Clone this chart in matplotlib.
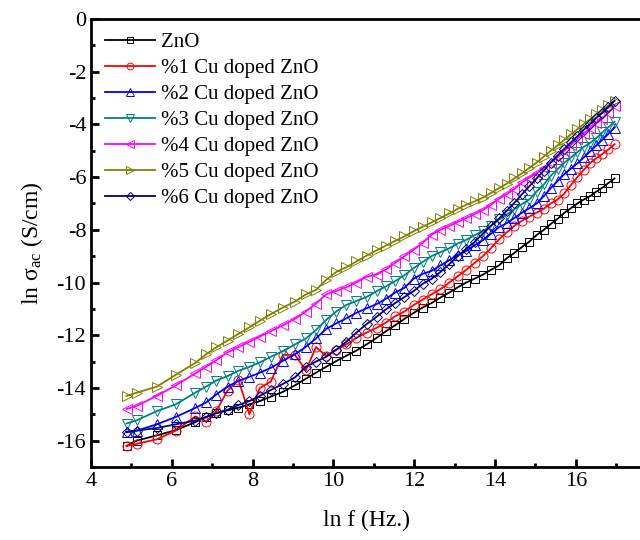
import matplotlib
matplotlib.use("Agg")
import matplotlib.pyplot as plt
from matplotlib.ticker import MultipleLocator

plt.rcParams['font.family'] = ['Liberation Serif', 'DejaVu Serif']
plt.rcParams['mathtext.fontset'] = 'custom'
plt.rcParams['mathtext.rm'] = 'Liberation Serif'
plt.rcParams['mathtext.it'] = 'Liberation Serif:italic'
plt.rcParams['axes.unicode_minus'] = False

ln_f = [4.88, 5.13, 5.63, 6.10, 6.58, 6.85, 7.10, 7.38, 7.65, 7.92, 8.18, 8.45, 8.75, 9.05, 9.32,
        9.57, 9.82, 10.07, 10.32, 10.57, 10.82, 11.07, 11.30, 11.53, 11.76, 11.99, 12.21, 12.43,
        12.65, 12.87, 13.08, 13.29, 13.50, 13.70, 13.90, 14.10, 14.29, 14.48, 14.67, 14.85, 15.03,
        15.21, 15.38, 15.55, 15.72, 15.88, 16.04, 16.20, 16.36, 16.51, 16.66, 16.81, 16.96]

zno = [-16.2, -16.0, -15.8, -15.6, -15.3, -15.1, -14.95, -14.85, -14.75, -14.62, -14.5, -14.33, -14.15,
       -13.9, -13.65, -13.42, -13.2, -12.98, -12.78, -12.58, -12.35, -12.1, -11.85, -11.62, -11.38,
       -11.15, -10.95, -10.78, -10.57, -10.38, -10.18, -10.0, -9.85, -9.7, -9.52, -9.35, -9.08, -8.88,
       -8.65, -8.45, -8.2, -8.0, -7.78, -7.58, -7.35, -7.18, -7.0, -6.85, -6.72, -6.55, -6.4, -6.22, -6.05]

cu1 = [-16.2, -16.12, -15.95, -15.62, -15.08, -15.28, -14.88, -14.1, -13.7, -15.0, -14.0, -13.76, -12.75,
       -12.75, -13.33, -12.45, -12.78, -12.55, -12.35, -12.1, -11.9, -11.72, -11.52, -11.28, -11.1,
       -10.85, -10.65, -10.45, -10.25, -10.0, -9.76, -9.52, -9.25, -9.0, -8.7, -8.36, -8.1, -7.85,
       -7.65, -7.5, -7.35, -7.2, -7.0, -6.85, -6.62, -6.3, -6.0, -5.72, -5.46, -5.28, -5.12, -4.95, -4.75]

cu2 = [-15.66, -15.62, -15.38, -15.1, -14.76, -14.55, -14.25, -13.95, -13.73, -13.58, -13.42, -13.24,
       -12.97, -12.72, -12.44, -12.12, -11.76, -11.55, -11.36, -11.15, -10.98, -10.82, -10.62, -10.38,
       -10.2, -9.85, -9.67, -9.56, -9.35, -9.15, -8.95, -8.8, -8.58, -8.4, -8.15, -7.9, -7.75, -7.55,
       -7.35, -7.18, -7.0, -6.72, -6.42, -6.15, -5.88, -5.68, -5.48, -5.25, -5.02, -4.8, -4.58, -4.35, -4.12]

cu3 = [-15.35, -15.23, -14.88, -14.62, -14.18, -13.95, -13.72, -13.55, -13.35, -13.2, -13.03, -12.82,
       -12.6, -12.35, -12.12, -11.8, -11.42, -11.1, -10.85, -10.7, -10.55, -10.33, -10.15, -9.95, -9.72,
       -9.45, -9.22, -9.0, -8.85, -8.7, -8.52, -8.38, -8.2, -8.05, -7.85, -7.6, -7.42, -7.22, -7.02,
       -6.85, -6.55, -6.28, -5.95, -5.7, -5.45, -5.25, -5.05, -4.85, -4.7, -4.52, -4.3, -4.1, -3.9]

cu4 = [-14.8, -14.68, -14.3, -13.9, -13.45, -13.2, -12.95, -12.65, -12.45, -12.25, -12.05, -11.85,
       -11.62, -11.38, -11.1, -10.8, -10.45, -10.32, -10.18, -10.0, -9.78, -9.7, -9.5, -9.25, -9.0,
       -8.75, -8.5, -8.18, -8.0, -7.85, -7.7, -7.55, -7.4, -7.25, -7.05, -6.82, -6.65, -6.45, -6.2,
       -6.02, -5.85, -5.65, -5.45, -5.25, -5.0, -4.78, -4.55, -4.35, -4.15, -3.95, -3.78, -3.55, -3.3]

cu5 = [-14.3, -14.18, -13.95, -13.5, -13.05, -12.72, -12.46, -12.2, -11.95, -11.7, -11.45, -11.2,
       -10.95, -10.72, -10.45, -10.28, -9.9, -9.6, -9.42, -9.2, -8.98, -8.78, -8.6, -8.42, -8.25,
       -8.05, -7.88, -7.72, -7.55, -7.38, -7.2, -7.05, -6.92, -6.78, -6.6, -6.42, -6.25, -6.05, -5.85,
       -5.65, -5.45, -5.22, -5.0, -4.8, -4.58, -4.38, -4.18, -3.98, -3.8, -3.62, -3.45, -3.28, -3.1]

cu6 = [-15.68, -15.62, -15.52, -15.38, -15.24, -15.1, -14.96, -14.83, -14.65, -14.5, -14.3, -14.08,
       -13.85, -13.6, -13.2, -13.0, -12.82, -12.55, -12.25, -11.9, -11.58, -11.3, -11.02, -10.78,
       -10.55, -10.32, -10.05, -9.86, -9.6, -9.3, -9.0, -8.72, -8.45, -8.15, -7.85, -7.57, -7.28,
       -6.98, -6.65, -6.35, -6.05, -5.75, -5.45, -5.18, -4.92, -4.68, -4.45, -4.2, -3.98, -3.75,
       -3.55, -3.33, -3.1]

labels = ["ZnO", "%1 Cu doped ZnO", "%2 Cu doped ZnO", "%3 Cu doped ZnO",
          "%4 Cu doped ZnO", "%5 Cu doped ZnO", "%6 Cu doped ZnO"]
series = [zno, cu1, cu2, cu3, cu4, cu5, cu6]
colors = ["#000000", "#FF0000", "#0000FF", "#008080", "#FF00FF", "#808000", "#000080"]
markers = ["s", "o", "^", "v", "<", ">", "D"]
msizes = [6, 6.5, 7, 7, 7, 7, 5.5]

fig = plt.figure(figsize=(6.4, 5.4), dpi=100)
ax = fig.add_axes([91/640, (540-467)/540, (642-91)/640, (467-19)/540])

for y, c, m, ms, lab in zip(series, colors, markers, msizes, labels):
    ax.plot(ln_f, y, color=c, lw=1.3, marker=m, ms=ms, mfc='none', mec=c,
            mew=0.7, label=lab)

ax.set_xlim(4, 17.64)
ax.set_ylim(-17, 0)
ax.xaxis.set_major_locator(MultipleLocator(2))
ax.xaxis.set_minor_locator(MultipleLocator(1))
ax.yaxis.set_major_locator(MultipleLocator(2))
ax.yaxis.set_minor_locator(MultipleLocator(1))
ax.tick_params(which='both', direction='in', top=False, right=False, width=2, labelsize=16)
ax.tick_params(which='major', length=6)
ax.tick_params(which='minor', length=3)
for s in ax.spines.values():
    s.set_linewidth(2)

ax.set_xlabel("ln f (Hz.)", fontsize=17, labelpad=14)
ax.set_ylabel(r"ln $\mathregular{\sigma_{ac}}$ (S/cm)", fontsize=17, labelpad=8)

ax.legend(loc='upper left', bbox_to_anchor=(0.0, 1.0), frameon=False, fontsize=15,
          handlelength=2.4, handletextpad=0.3, labelspacing=0.31, markerscale=0.75,
          borderaxespad=0.25)

fig.savefig("out.png", dpi=100)
